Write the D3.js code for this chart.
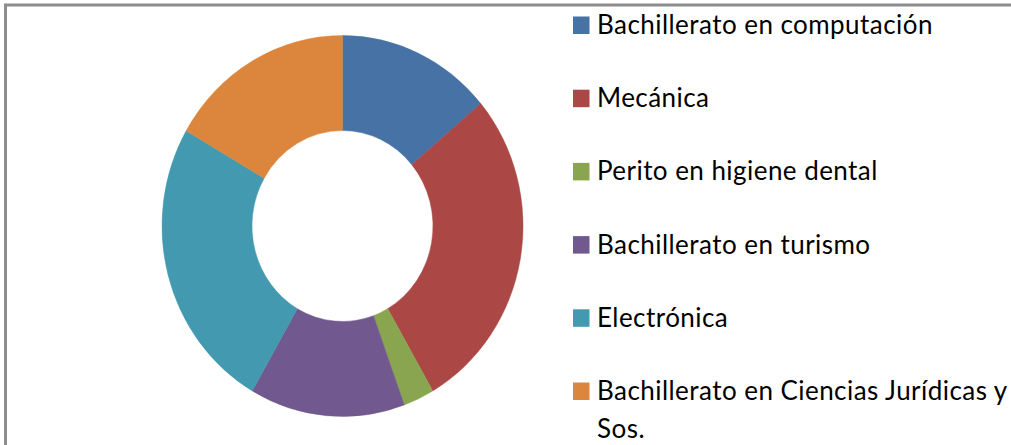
<!DOCTYPE html>
<html>
<head>
<meta charset="utf-8">
<script src="https://cdn.jsdelivr.net/npm/d3@7"></script>
<style>
  html, body { margin: 0; padding: 0; background: #fff; }
  svg { display: block; }
</style>
</head>
<body>
<svg id="chart" width="1011" height="445"></svg>
<script>
// Career choices (student counts)
const categories = [
  "Bachillerato en computación",
  "Mecánica",
  "Perito en higiene dental",
  "Bachillerato en turismo",
  "Electrónica",
  "Bachillerato en Ciencias Jurídicas y Sos."
];
const values = [5, 10, 1, 5, 9, 6];
const colors = ["#4672a6", "#ab4744", "#8aa54f", "#71598f", "#4399b0", "#dc863d"];

const svg = d3.select("#chart");

// frame
svg.append("rect")
  .attr("x", 5.5).attr("y", 5)
  .attr("width", 1100).attr("height", 600)
  .attr("fill", "none")
  .attr("stroke", "#8c8c8c")
  .attr("stroke-width", 3);

// donut
const cx = 342.5, cy = 226;
const pie = d3.pie().sort(null).value(d => d.value);
const arc = d3.arc().innerRadius(90.5).outerRadius(180.5);

const data = categories.map((c, i) => ({ name: c, value: values[i], color: colors[i] }));

const g = svg.append("g")
  .attr("transform", `translate(${cx},${cy}) scale(1,1.055)`);

g.selectAll("path")
  .data(pie(data))
  .join("path")
  .attr("d", arc)
  .attr("fill", d => d.data.color)
  .attr("stroke", d => d.data.color)
  .attr("stroke-width", 0.5);

// legend
const legendX = 573, firstBaseline = 34, rowStep = 73.2;
const maxTextWidth = 425;
const legend = svg.append("g");

data.forEach((d, i) => {
  const baseline = firstBaseline + i * rowStep;
  legend.append("rect")
    .attr("x", legendX).attr("y", baseline - 17.5)
    .attr("width", 16.5).attr("height", 17.5)
    .attr("fill", d.color);

  const text = legend.append("text")
    .attr("x", legendX + 24)
    .attr("y", baseline)
    .attr("font-family", "Lato, 'Open Sans', sans-serif")
    .attr("font-size", 26)
    .attr("letter-spacing", 0.45)
    .attr("fill", "#000");

  // wrap long labels onto a second line
  const words = d.name.split(" ");
  let line = [];
  let tspan = text.append("tspan").attr("x", legendX + 24).attr("y", baseline);
  let lineNo = 0;
  words.forEach(w => {
    line.push(w);
    tspan.text(line.join(" "));
    if (tspan.node().getComputedTextLength() > maxTextWidth && line.length > 1) {
      line.pop();
      tspan.text(line.join(" "));
      line = [w];
      lineNo++;
      tspan = text.append("tspan")
        .attr("x", legendX + 24)
        .attr("y", baseline + lineNo * 38)
        .text(w);
    }
  });
});
</script>
</body>
</html>
